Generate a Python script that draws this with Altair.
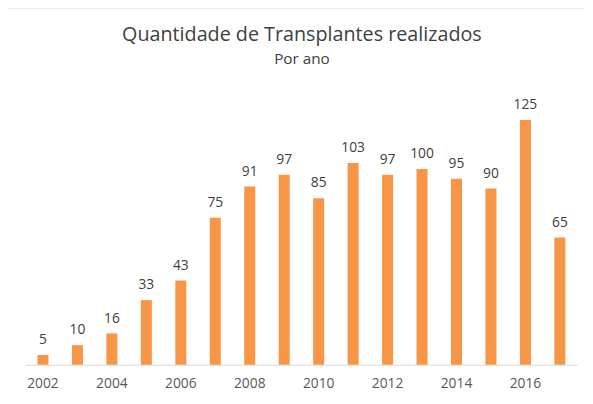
import altair as alt
import pandas as pd

years = list(range(2002, 2018))
values = [5, 10, 16, 33, 43, 75, 91, 97, 85, 103, 97, 100, 95, 90, 125, 65]
tick_years = [2002, 2004, 2006, 2008, 2010, 2012, 2014, 2016]
title_text = "Quantidade de Transplantes realizados"
subtitle_text = "Por ano"

df = pd.DataFrame({"ano": years, "qtd": values})
FONT = "Open Sans"

base = alt.Chart(df).encode(
    x=alt.X("ano:O", title=None,
            scale=alt.Scale(paddingInner=0.68, paddingOuter=0.34),
            axis=alt.Axis(values=tick_years, labelAngle=0, ticks=False,
                          domainColor="#d9d9d9", labelColor="#595959",
                          labelFontSize=14, labelFont=FONT, labelPadding=12)),
    y=alt.Y("qtd:Q", title=None, scale=alt.Scale(domain=[0, 140]), axis=None),
)

bars = base.mark_bar(color="#F79646")
labels = base.mark_text(dy=-15, fontSize=14, font=FONT, color="#404040").encode(text="qtd:Q")

one = pd.DataFrame({"k": [0]})
border = alt.Chart(one).mark_rect(
    fill=None, stroke="#d9d9d9", strokeWidth=1.5
).encode(x=alt.value(-19), x2=alt.value(600), y=alt.value(-84), y2=alt.value(340))

title = alt.Chart(one).mark_text(
    font=FONT, fontSize=20, color="#404040", align="center", baseline="middle"
).encode(x=alt.value(280), y=alt.value(-56), text=alt.value(title_text))

subtitle = alt.Chart(one).mark_text(
    font=FONT, fontSize=15.5, color="#404040", align="center", baseline="middle"
).encode(x=alt.value(280), y=alt.value(-32), text=alt.value(subtitle_text))

chart = alt.layer(border, title, subtitle, bars, labels).properties(
    width=559, height=278,
    autosize=alt.AutoSizeParams(type="none"),
    padding={"left": 18, "top": 81, "right": 8, "bottom": 30},
).configure_view(stroke=None)

chart.save("out.html", embed_options={"renderer": "svg", "actions": False})
